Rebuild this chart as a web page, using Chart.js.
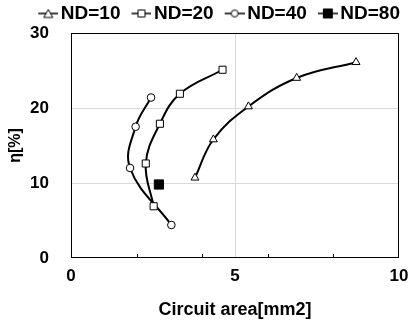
<!DOCTYPE html>
<html>
<head>
<meta charset="utf-8">
<script src="https://cdn.jsdelivr.net/npm/chart.js@4.4.1/dist/chart.umd.min.js"></script>
<style>
  html, body { margin: 0; padding: 0; background: #fff; }
  #wrap { width: 409px; height: 323px; }
</style>
</head>
<body>
<div id="wrap"><canvas id="chart"></canvas></div>
<script>
// ===== Circuit area vs efficiency =====

const seriesNames = ['ND=10', 'ND=20', 'ND=40', 'ND=80'];

// [circuit area mm2, eta %]
const nd10 = [[3.78, 10.7], [4.34, 15.8], [5.41, 20.2], [6.88, 24.0], [8.69, 26.1]];
const nd20 = [[2.52, 6.9], [2.28, 12.6], [2.71, 17.9], [3.32, 21.9], [4.62, 25.1]];
const nd40 = [[3.06, 4.4], [1.80, 12.0], [1.97, 17.5], [2.44, 21.4]];
const nd80 = [[2.68, 9.8]];

const xTicks = [0, 5, 10];
const yTicks = [0, 10, 20, 30];
const xMinorTicks = [2, 4, 6, 8];

const FONT = "'Liberation Sans', Arial, sans-serif";
const GRID = '#d9d9d9';

const toPts = arr => arr.map(p => ({ x: p[0], y: p[1] }));

// line + marker icon for the legend; canvas is centred on the legend box,
// the drawing sits in its right part so it ends just before the text
function legendIcon(style, filled) {
  const c = document.createElement('canvas');
  c.width = 34; c.height = 12;
  const g = c.getContext('2d');
  const x0 = 14, cx = 24;
  g.strokeStyle = '#000';
  g.lineWidth = 1.5;
  g.beginPath(); g.moveTo(x0, 6); g.lineTo(34, 6); g.stroke();
  g.lineWidth = 1;
  g.fillStyle = filled ? '#000' : '#fff';
  g.beginPath();
  if (style === 'triangle') {
    g.moveTo(cx, 2); g.lineTo(cx + 4.5, 10); g.lineTo(cx - 4.5, 10); g.closePath();
  } else if (style === 'rect') {
    if (filled) g.rect(cx - 4.5, 1.5, 9, 9); else g.rect(cx - 3.5, 2.5, 7, 7);
  } else {
    g.arc(cx, 6, 3.5, 0, Math.PI * 2);
  }
  g.fill(); g.stroke();
  return c;
}
const icons = [
  legendIcon('triangle', false),
  legendIcon('rect', false),
  legendIcon('circle', false),
  legendIcon('rect', true)
];

const frame = {
  id: 'frame',
  afterDraw(chart) {
    const { ctx, chartArea: a, scales: { x } } = chart;
    ctx.save();
    ctx.strokeStyle = '#000';
    ctx.lineWidth = 1;
    ctx.strokeRect(a.left + 0.5, a.top + 0.5, a.right - a.left - 1, a.bottom - a.top - 1);
    ctx.beginPath();
    xMinorTicks.forEach(v => {
      const px = Math.round(x.getPixelForValue(v)) + 0.5;
      ctx.moveTo(px, a.bottom); ctx.lineTo(px, a.bottom - 4);
    });
    ctx.stroke();
    ctx.restore();
  }
};

function ds(label, data, style, radius, filled) {
  return {
    label,
    data: toPts(data),
    showLine: true,
    tension: 0.4,
    borderColor: '#000',
    borderWidth: 2,
    pointStyle: style,
    pointRadius: radius,
    pointHoverRadius: radius,
    pointBackgroundColor: filled ? '#000' : '#fff',
    pointBorderColor: '#000',
    pointBorderWidth: 1
  };
}

new Chart(document.getElementById('chart'), {
  type: 'scatter',
  data: {
    datasets: [
      ds(seriesNames[0], nd10, 'triangle', 4.6, false),
      ds(seriesNames[1], nd20, 'rect', 5, false),
      ds(seriesNames[2], nd40, 'circle', 3.8, false),
      ds(seriesNames[3], nd80, 'rect', 6.5, true)
    ]
  },
  plugins: [frame],
  options: {
    responsive: true, maintainAspectRatio: false,
    animation: false,
    layout: { padding: { left: 0, right: 5, top: 0, bottom: 0 } },
    plugins: {
      tooltip: { enabled: false },
      legend: {
        position: 'top',
        align: 'end',
        labels: {
          color: '#000',
          font: { family: FONT, size: 19, weight: 'bold' },
          usePointStyle: true,
          pointStyleWidth: 20,
          padding: 4,
          generateLabels(chart) {
            const items = Chart.defaults.plugins.legend.labels.generateLabels(chart);
            items.forEach((it, i) => { it.pointStyle = icons[i]; });
            return items;
          }
        }
      }
    },
    scales: {
      x: {
        type: 'linear',
        min: 0, max: 10,
        afterBuildTicks: s => { s.ticks = xTicks.map(v => ({ value: v })); },
        grid: {
          drawTicks: false,
          color: c => (c.tick && (c.tick.value === 0 || c.tick.value === 10)) ? 'rgba(0,0,0,0)' : GRID
        },
        border: { display: false },
        ticks: { color: '#000', padding: 8, font: { family: FONT, size: 17, weight: 'bold' } },
        title: {
          display: true, text: 'Circuit area[mm2]', color: '#000',
          font: { family: FONT, size: 18, weight: 'bold' },
          padding: { top: 4, bottom: 2 }
        },
        afterFit: s => { s.height = 65; s.paddingRight = 10; }
      },
      y: {
        type: 'linear',
        min: 0, max: 30,
        afterBuildTicks: s => { s.ticks = yTicks.map(v => ({ value: v })); },
        grid: {
          drawTicks: false,
          color: c => (c.tick && (c.tick.value === 0 || c.tick.value === 30)) ? 'rgba(0,0,0,0)' : GRID
        },
        border: { display: false },
        ticks: { color: '#000', padding: 22, font: { family: FONT, size: 17, weight: 'bold' } },
        title: {
          display: true, text: 'η[%]', color: '#000',
          font: { family: FONT, size: 16, weight: 'bold' },
          padding: { top: 6, bottom: 0 }
        },
        afterFit: s => { s.width = 71; }
      }
    }
  }
});
</script>
</body>
</html>
